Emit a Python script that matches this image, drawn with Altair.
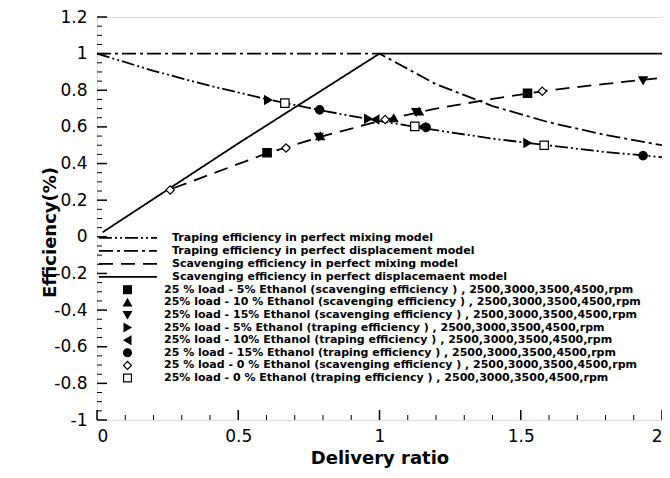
import altair as alt
import pandas as pd

# ---------------- line series ----------------
line_names = [
    "Traping efficiency in perfect mixing model",
    "Traping efficiency in perfect displacement model",
    "Scavenging efficiency in perfect mixing model",
    "Scavenging efficiency in perfect displacemaent model",
]
trap_mix_x = [0.0, 0.2, 0.4, 0.6, 0.8, 1.0, 1.2, 1.4, 1.6, 1.8, 2.0]
trap_mix_y = [1.0, 0.906, 0.824, 0.752, 0.688, 0.632, 0.582, 0.536, 0.499, 0.463, 0.435]
trap_disp_x = [0.0, 1.0, 1.2, 1.4, 1.6, 1.8, 2.0]
trap_disp_y = [1.0, 1.0, 0.833, 0.714, 0.625, 0.556, 0.5]
scav_mix_x = [0.27, 0.4, 0.6, 0.8, 1.0, 1.2, 1.4, 1.6, 1.8, 2.0]
scav_mix_y = [0.265, 0.34, 0.455, 0.55, 0.632, 0.70, 0.753, 0.80, 0.835, 0.868]
scav_disp_x = [0.02, 0.5, 1.0, 2.0]
scav_disp_y = [0.025, 0.51, 1.0, 1.0]

# ---------------- measured points ----------------
point_names = [
    "25 % load - 5% Ethanol (scavenging efficiency ) , 2500,3000,3500,4500,rpm",
    "25% load - 10 % Ethanol (scavenging efficiency ) , 2500,3000,3500,4500,rpm",
    "25% load - 15% Ethanol (scavenging efficiency ) , 2500,3000,3500,4500,rpm",
    "25% load - 5% Ethanol (traping  efficiency ) , 2500,3000,3500,4500,rpm",
    "25% load - 10% Ethanol (traping  efficiency ) , 2500,3000,3500,4500,rpm",
    "25 % load - 15% Ethanol (traping  efficiency ) , 2500,3000,3500,4500,rpm",
    "25 % load -  0 % Ethanol (scavenging efficiency ) , 2500,3000,3500,4500,rpm",
    "25% load -  0 % Ethanol (traping  efficiency ) , 2500,3000,3500,4500,rpm",
]
sq5_x, sq5_y = [0.602, 1.524], [0.459, 0.784]
tu10_x, tu10_y = [0.79, 1.05, 1.14], [0.55, 0.648, 0.685]
td15_x, td15_y = [0.785, 1.13, 1.933], [0.545, 0.68, 0.853]
tr5_x, tr5_y = [0.606, 0.96, 1.524], [0.747, 0.645, 0.512]
tl10_x, tl10_y = [0.985, 1.15], [0.64, 0.60]
ci15_x, ci15_y = [0.788, 1.165, 1.933], [0.693, 0.597, 0.443]
di0_x, di0_y = [0.259, 0.669, 1.02, 1.576], [0.256, 0.485, 0.64, 0.795]
os0_x, os0_y = [0.665, 1.125, 1.583], [0.73, 0.603, 0.50]

# ---------------- axis ticks ----------------
x_major = [0.0, 0.5, 1.0, 1.5, 2.0]
x_minor = [0.1, 0.2, 0.3, 0.4, 0.6, 0.7, 0.8, 0.9, 1.1, 1.2, 1.3, 1.4,
           1.6, 1.7, 1.8, 1.9]
y_major = [-1.0, -0.8, -0.6, -0.4, -0.2, 0.0, 0.2, 0.4, 0.6, 0.8, 1.0, 1.2]
y_minor = [-0.95, -0.9, -0.85, -0.75, -0.7, -0.65, -0.55, -0.5, -0.45,
           -0.35, -0.3, -0.25, -0.15, -0.1, -0.05, 0.05, 0.1, 0.15,
           0.25, 0.3, 0.35, 0.45, 0.5, 0.55, 0.65, 0.7, 0.75,
           0.85, 0.9, 0.95, 1.05, 1.1, 1.15]

# ---------------- build tables ----------------
rows = []
for name, xs_, ys_ in zip(line_names,
                          [trap_mix_x, trap_disp_x, scav_mix_x, scav_disp_x],
                          [trap_mix_y, trap_disp_y, scav_mix_y, scav_disp_y]):
    for a, b in zip(xs_, ys_):
        rows.append({"x": a, "y": b, "series": name})
lines_df = pd.DataFrame(rows)

prow = []
for name, xs_, ys_ in zip(point_names,
                          [sq5_x, tu10_x, td15_x, tr5_x, tl10_x, ci15_x, di0_x, os0_x],
                          [sq5_y, tu10_y, td15_y, tr5_y, tl10_y, ci15_y, di0_y, os0_y]):
    for a, b in zip(xs_, ys_):
        prow.append({"x": a, "y": b, "series": name})
pts_df = pd.DataFrame(prow)

FONT = "DejaVu Sans"
XT = "Delivery  ratio"
YT = "Efficiency(%)"
xs = alt.Scale(domain=[0, 2], nice=False, zero=False)
ys = alt.Scale(domain=[-1, 1.2], nice=False, zero=False)

dashes = [[13, 3, 2, 3, 2, 3], [14, 4, 3, 4], [14, 8], [1, 0]]
shapes = ["square", "triangle-up", "triangle-down", "triangle-right",
          "triangle-left", "circle", "diamond", "square"]
fills = ["black"] * 6 + ["white", "white"]
strokes = ["black"] * 8

line_legend = alt.Legend(
    orient="none", legendX=1, legendY=214.6, title=None,
    symbolType="stroke", symbolSize=3364, symbolStrokeWidth=1.8,
    symbolStrokeColor="black", clipHeight=12.7, rowPadding=0,
    labelOffset=14, labelFont=FONT, labelFontWeight="bold",
    labelFontSize=11, labelLimit=700, padding=0, symbolOffset=0,
    labelColor="black",
)
pt_legend = alt.Legend(
    orient="none", legendX=25, legendY=266.8, title=None,
    symbolSize=62, symbolStrokeWidth=1.2, symbolStrokeColor="black",
    clipHeight=12, rowPadding=0.6, labelOffset=31, labelFont=FONT,
    labelFontWeight="bold", labelFontSize=11, labelLimit=700, padding=0,
    symbolOffset=0, labelColor="black",
)

x_axis = alt.Axis(values=x_major, labelExpr="'' + datum.value",
                  ticks=False, domain=False, grid=False,
                  labelPadding=8, labelFont=FONT, labelFontSize=17,
                  labelColor="black", titleFont=FONT, titleFontSize=18,
                  titleFontWeight="bold", titleColor="black",
                  titleY=38, titleBaseline="middle")
y_axis = alt.Axis(values=y_major, labelExpr="'' + datum.value",
                  ticks=False, domain=False, grid=False,
                  labelPadding=10, labelFont=FONT, labelFontSize=17,
                  labelColor="black", titleFont=FONT, titleFontSize=18,
                  titleFontWeight="bold", titleColor="black",
                  titleX=-47, titleY=215, titleBaseline="middle",
                  titleAlign="center", titleAngle=270)

lines = alt.Chart(lines_df).mark_line(color="black", strokeWidth=1.8).encode(
    x=alt.X("x:Q", scale=xs, title=XT, axis=x_axis),
    y=alt.Y("y:Q", scale=ys, title=YT, axis=y_axis),
    strokeDash=alt.StrokeDash("series:N",
                              scale=alt.Scale(domain=line_names, range=dashes),
                              legend=line_legend),
    detail="series:N",
)

points = alt.Chart(pts_df).mark_point(filled=True, strokeWidth=1.2,
                                      opacity=1, size=70).encode(
    x=alt.X("x:Q", scale=xs, title=XT, axis=x_axis),
    y=alt.Y("y:Q", scale=ys, title=YT, axis=y_axis),
    shape=alt.Shape("series:N", scale=alt.Scale(domain=point_names, range=shapes),
                    legend=pt_legend),
    fill=alt.Fill("series:N", scale=alt.Scale(domain=point_names, range=fills),
                  legend=pt_legend),
    stroke=alt.Stroke("series:N", scale=alt.Scale(domain=point_names, range=strokes),
                      legend=pt_legend),
)

ym = pd.DataFrame({"v": y_major})
yn = pd.DataFrame({"v": y_minor})
xm = pd.DataFrame({"v": x_major})
xn = pd.DataFrame({"v": x_minor})

left_major = alt.Chart(ym).mark_rule(color="black", strokeWidth=1.5, x2Offset=10).encode(
    y=alt.Y("v:Q", scale=ys, title=YT, axis=y_axis),
    x=alt.XDatum(0, scale=xs, title=XT, axis=x_axis), x2=alt.X2Datum(0))
left_minor = alt.Chart(yn).mark_rule(color="black", strokeWidth=1, x2Offset=5).encode(
    y=alt.Y("v:Q", scale=ys, title=YT, axis=y_axis),
    x=alt.XDatum(0, scale=xs, title=XT, axis=x_axis), x2=alt.X2Datum(0))
bot_major = alt.Chart(xm).mark_rule(color="black", strokeWidth=1.5, y2Offset=-10).encode(
    x=alt.X("v:Q", scale=xs, title=XT, axis=x_axis),
    y=alt.YDatum(-1, scale=ys, title=YT, axis=y_axis), y2=alt.Y2Datum(-1))
bot_minor = alt.Chart(xn).mark_rule(color="black", strokeWidth=1, y2Offset=-5).encode(
    x=alt.X("v:Q", scale=xs, title=XT, axis=x_axis),
    y=alt.YDatum(-1, scale=ys, title=YT, axis=y_axis), y2=alt.Y2Datum(-1))

chart = alt.layer(lines, points, left_major, left_minor, bot_major, bot_minor).properties(
    width=565, height=403,
    autosize=alt.AutoSizeParams(type="none"),
    padding={"left": 89, "top": 9, "right": 0, "bottom": 50},
).configure_view(stroke="black", strokeWidth=2).configure(background="white")

chart.save("out.html", embed_options={"renderer": "svg", "actions": False})
